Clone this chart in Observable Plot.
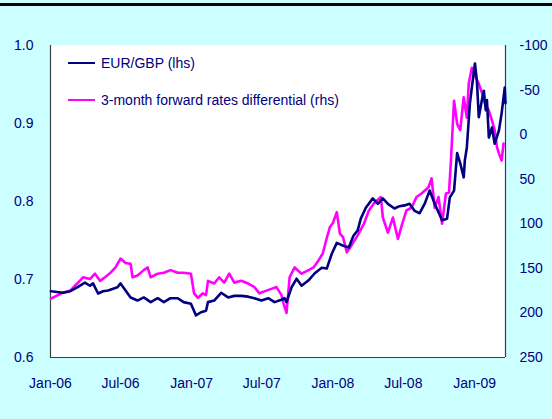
<!DOCTYPE html>
<html><head><meta charset="utf-8">
<script src="https://cdn.jsdelivr.net/npm/d3@7"></script>
<script src="https://cdn.jsdelivr.net/npm/@observablehq/plot@0.6"></script>
<style>
html,body{margin:0;padding:0;background:#ccffff;width:552px;height:419px;overflow:hidden;font-family:"Liberation Sans",Arial,sans-serif}
#bar{position:absolute;left:0;top:3px;width:552px;height:3px;background:#000}
#chart{position:absolute;left:0;top:0}
#legend{position:absolute;left:68px;top:54px;color:#000080;font-size:14px;line-height:18px}
.item{display:flex;align-items:center;height:18px;margin-bottom:19px;white-space:nowrap}
.sw{width:27px;height:0;border-top:2.5px solid;margin-right:6px}
</style>
</head><body>
<div id="bar"></div>
<div id="chart"></div>
<div id="legend"></div>
<script>
const eurDates = ["2006-01-02","2006-02-03","2006-02-21","2006-03-11","2006-03-31","2006-04-13","2006-04-21","2006-05-04","2006-05-17","2006-05-30","2006-06-23","2006-07-01","2006-07-14","2006-07-27","2006-08-14","2006-08-30","2006-09-17","2006-10-05","2006-10-21","2006-11-07","2006-11-26","2006-12-11","2006-12-30","2007-01-12","2007-01-25","2007-02-07","2007-02-12","2007-02-28","2007-03-18","2007-04-05","2007-04-21","2007-05-09","2007-05-27","2007-06-12","2007-06-30","2007-07-18","2007-08-03","2007-08-21","2007-08-29","2007-09-03","2007-09-16","2007-09-29","2007-10-12","2007-10-30","2007-11-15","2007-12-03","2007-12-16","2007-12-29","2008-01-11","2008-01-24","2008-02-11","2008-02-23","2008-03-05","2008-03-13","2008-03-26","2008-04-13","2008-04-26","2008-05-09","2008-05-22","2008-06-08","2008-06-21","2008-07-04","2008-07-17","2008-07-30","2008-08-12","2008-08-25","2008-09-07","2008-09-20","2008-10-01","2008-10-09","2008-10-22","2008-10-29","2008-11-09","2008-11-17","2008-11-25","2008-12-04","2008-12-07","2008-12-12","2008-12-20","2008-12-25","2009-01-02","2009-01-07","2009-01-12","2009-01-20","2009-01-25","2009-01-30","2009-02-02","2009-02-07","2009-02-15","2009-02-22","2009-03-05","2009-03-12","2009-03-20","2009-03-22"];
const eurValues = [0.685,0.683,0.685,0.690,0.696,0.692,0.695,0.682,0.685,0.686,0.690,0.695,0.686,0.677,0.673,0.677,0.671,0.676,0.671,0.676,0.676,0.671,0.669,0.654,0.658,0.660,0.671,0.673,0.683,0.677,0.679,0.679,0.678,0.676,0.673,0.676,0.671,0.674,0.676,0.671,0.690,0.701,0.692,0.699,0.708,0.715,0.714,0.733,0.747,0.744,0.741,0.756,0.763,0.778,0.792,0.804,0.797,0.804,0.797,0.791,0.794,0.795,0.797,0.788,0.785,0.797,0.814,0.797,0.785,0.776,0.778,0.805,0.814,0.862,0.849,0.831,0.853,0.869,0.926,0.946,0.977,0.955,0.908,0.930,0.942,0.917,0.930,0.882,0.895,0.874,0.891,0.913,0.946,0.926];

const diffDates = ["2006-01-02","2006-01-20","2006-02-03","2006-02-21","2006-03-11","2006-03-26","2006-04-13","2006-04-26","2006-05-09","2006-05-22","2006-06-05","2006-06-18","2006-07-01","2006-07-14","2006-07-27","2006-08-01","2006-08-14","2006-08-30","2006-09-09","2006-09-17","2006-10-05","2006-10-21","2006-11-07","2006-11-26","2006-12-11","2006-12-30","2007-01-07","2007-01-17","2007-01-30","2007-02-07","2007-02-12","2007-02-28","2007-03-13","2007-03-26","2007-04-08","2007-04-21","2007-05-09","2007-05-27","2007-06-12","2007-06-25","2007-07-13","2007-07-26","2007-08-08","2007-08-21","2007-08-26","2007-09-03","2007-09-11","2007-09-24","2007-10-12","2007-10-30","2007-11-12","2007-11-25","2007-12-06","2007-12-16","2007-12-24","2008-01-01","2008-01-11","2008-01-19","2008-01-27","2008-02-06","2008-02-14","2008-03-05","2008-03-21","2008-04-03","2008-04-16","2008-05-04","2008-05-09","2008-05-22","2008-06-04","2008-06-17","2008-06-28","2008-07-09","2008-07-22","2008-08-04","2008-08-17","2008-09-04","2008-09-12","2008-09-20","2008-09-30","2008-10-09","2008-10-19","2008-10-27","2008-11-01","2008-11-09","2008-11-17","2008-11-25","2008-12-04","2008-12-12","2008-12-17","2008-12-25","2009-01-02","2009-01-12","2009-01-20","2009-01-28","2009-02-07","2009-02-15","2009-02-22","2009-02-28","2009-03-05","2009-03-12","2009-03-17"];
const diffValues = [184,180,177,175,167,160,162,156,164,160,155,149,139,144,145,160,158,152,149,160,156,155,152,155,155,156,178,183,178,180,164,167,160,166,156,166,164,167,171,178,175,173,171,180,189,200,160,149,156,152,149,141,133,116,104,99,87,111,115,132,127,113,100,85,77,70,93,110,93,117,100,85,82,70,66,59,49,82,70,100,66,65,29,-38,-12,-5,-42,-19,-57,-75,-66,-57,-47,-35,-27,-16,-5,14,21,29,10];

const leftTicks = [0.6, 0.7, 0.8, 0.9, 1.0];
const rightTicks = [-100, -50, 0, 50, 100, 150, 200, 250];
const xTickDates = ["2006-01-01","2006-07-01","2007-01-01","2007-07-01","2008-01-01","2008-07-01","2009-01-01"];
const xStart = "2006-01-01", xEnd = "2009-03-22";
const seriesNames = ["EUR/GBP (lhs)", "3-month forward rates differential (rhs)"];
const seriesColors = ["#000080", "#ff00ff"];

const eur = eurDates.map((d, i) => ({date: new Date(d), value: eurValues[i]}));
const diff = diffDates.map((d, i) => ({date: new Date(d), value: diffValues[i]}));
// map right-hand values (-100 top .. 250 bottom) onto left scale (1.0 top .. 0.6 bottom)
const toLeft = r => 1.0 - (r + 100) / 350 * 0.4;
const fromLeft = v => Math.round((1.0 - v) / 0.4 * 350 - 100);
const x0 = new Date(xStart), x1 = new Date(xEnd);

const chart = Plot.plot({
  width: 552, height: 419,
  marginLeft: 50, marginRight: 47, marginTop: 45, marginBottom: 62,
  style: {background: "transparent", color: "#000080", fontSize: "14px", fontFamily: "'Liberation Sans', Arial, sans-serif"},
  x: {type: "utc", domain: [x0, x1], label: null},
  y: {domain: [0.6, 1.0], label: null},
  marks: [
    Plot.frame({fill: "white", stroke: null}),
    Plot.ruleX([x0], {stroke: "#404040", strokeWidth: 1.2}),
    Plot.ruleX([x1], {stroke: "#333370", strokeWidth: 1.2}),
    Plot.ruleY([0.6], {stroke: "#404040", strokeWidth: 1.2}),
    Plot.line(diff, {x: "date", y: d => toLeft(d.value), stroke: seriesColors[1], strokeWidth: 2.6}),
    Plot.line(eur, {x: "date", y: "value", stroke: seriesColors[0], strokeWidth: 2.6}),
    Plot.axisY(leftTicks, {anchor: "left", tickSize: 0, tickPadding: 17, fontSize: 14, tickFormat: d => d.toFixed(1), label: null}),
    Plot.axisY(rightTicks.map(toLeft), {anchor: "right", tickSize: 0, tickPadding: 14, fontSize: 14, tickFormat: v => String(fromLeft(v)), label: null}),
    Plot.axisX(xTickDates.map(d => new Date(d)), {anchor: "bottom", tickSize: 0, tickPadding: 21, fontSize: 14, tickFormat: d3.utcFormat("%b-%y"), label: null})
  ]
});
document.getElementById("chart").appendChild(chart);

const legend = document.getElementById("legend");
seriesNames.forEach((name, i) => {
  const row = document.createElement("div");
  row.className = "item";
  const sw = document.createElement("span");
  sw.className = "sw";
  sw.style.borderTopColor = seriesColors[i];
  row.appendChild(sw);
  row.appendChild(document.createTextNode(name));
  legend.appendChild(row);
});
</script>
</body></html>
